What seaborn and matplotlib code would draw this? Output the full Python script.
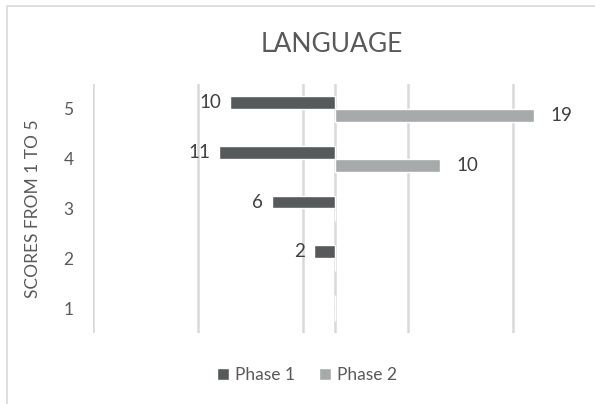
import pandas as pd
import seaborn as sns
import matplotlib.pyplot as plt
from matplotlib.patches import Rectangle

# data
scores = ["5", "4", "3", "2", "1"]
phase1 = [10, 11, 6, 2, 0]
phase2 = [19, 10, 0, 0, 0]
grid_at = [-23, -13, -3, 7, 17]

sns.set_theme(style="white")
plt.rcParams["font.family"] = ["Lato", "DejaVu Sans"]
TXT = "#595959"

# phase 1 goes to the left, phase 2 to the right
df = pd.DataFrame({
    "score": scores * 2,
    "value": [-v for v in phase1] + phase2,
    "phase": ["Phase 1"] * len(scores) + ["Phase 2"] * len(scores),
})
palette = {"Phase 1": "#575A5A", "Phase 2": "#A7AAAA"}

fig = plt.figure(figsize=(5.95, 4.04), dpi=100)
W, H = 595, 404
ax = fig.add_axes([93 / W, 1 - 333 / H, (595 - 93) / W, (333 - 84) / H])

# light frame like the Excel chart area
fig.patches.append(Rectangle((7 / W, -0.1), 1.2, 1 - 6 / H + 0.1, transform=fig.transFigure,
                             fill=False, edgecolor="#D9D9D9", linewidth=1.2))

for g in grid_at + [0]:
    ax.axvline(g, color="#D9D9D9", linewidth=1.8, zorder=0)

sns.barplot(data=df, x="value", y="score", hue="phase", order=scores, orient="h",
            palette=palette, width=0.52, dodge=True, ax=ax, zorder=2, legend=True)

ax.set_xlim(-23, -23 + (595 - 93) / 10.5)
ax.set_xticks([])
for s in ax.spines.values():
    s.set_visible(False)

labels1 = [str(v) if v else "" for v in phase1]
labels2 = [str(v) if v else "" for v in phase2]
ax.bar_label(ax.containers[0], labels=labels1, padding=6, fontsize=13.5, color="#404040")
ax.bar_label(ax.containers[1], labels=labels2, padding=12, fontsize=13.5, color="#404040")

ax.tick_params(axis="y", length=0, pad=14, labelsize=12.5, labelcolor=TXT)
ax.set_ylabel("SCORES FROM 1 TO 5", fontsize=12.5, color=TXT, labelpad=16)
ax.set_xlabel("")

fig.text(332 / W, 1 - 45 / H, "LANGUAGE", ha="center", va="center", fontsize=19, color=TXT)

handles, lbls = ax.get_legend_handles_labels()
ax.legend_.remove()
fig.legend(handles, lbls, loc="center", bbox_to_anchor=(307 / W, 1 - 375 / H), ncol=2,
           frameon=False, fontsize=12.5, labelcolor=TXT, handlelength=0.7, handleheight=0.7,
           handletextpad=0.35, columnspacing=1.4)

fig.savefig("out.png", dpi=100)
